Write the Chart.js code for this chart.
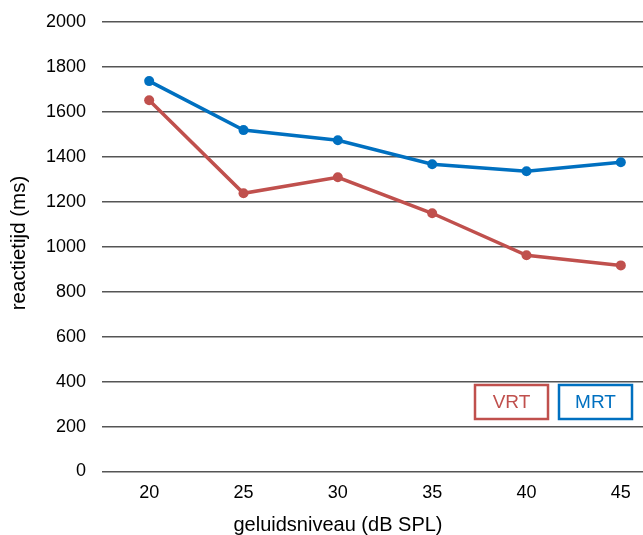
<!DOCTYPE html>
<html>
<head>
<meta charset="utf-8">
<script src="https://cdn.jsdelivr.net/npm/chart.js@4"></script>
<style>
  html, body { margin: 0; padding: 0; background: #fff; overflow: hidden; }
  #wrap { width: 643px; height: 535px; overflow: hidden; position: relative; }
  canvas { display: block; }
</style>
</head>
<body>
<div id="wrap"><canvas id="c" width="673" height="535"></canvas></div>
<script>
// Sound level categories (dB SPL)
const levels = ['20', '25', '30', '35', '40', '45'];
// Reaction times in ms
const vrt = [1652, 1238, 1309, 1149, 962, 917];
const mrt = [1737, 1519, 1474, 1367, 1336, 1376];
// Y axis ticks
const yTicks = [0, 200, 400, 600, 800, 1000, 1200, 1400, 1600, 1800, 2000];

const RED = '#C0504D';
const BLUE = '#0070C0';
const FONT = '"Liberation Sans", Arial, sans-serif';

// Axis titles and boxed series labels
const annotations = {
  id: 'annotations',
  afterDraw(chart) {
    const ctx = chart.ctx;
    ctx.save();
    ctx.fillStyle = '#000';
    ctx.textAlign = 'center';
    ctx.font = '20px ' + FONT;
    ctx.textBaseline = 'alphabetic';
    ctx.fillText('geluidsniveau (dB SPL)', 338, 531);
    ctx.font = '20.5px ' + FONT;
    ctx.textBaseline = 'middle';
    ctx.translate(19, 243);
    ctx.rotate(-Math.PI / 2);
    ctx.fillText('reactietijd (ms)', 0, 0);
    ctx.restore();

    const boxes = [
      { ds: 0, x: 475, w: 73 },
      { ds: 1, x: 559, w: 73 }
    ];
    ctx.save();
    ctx.font = '19px ' + FONT;
    ctx.textAlign = 'center';
    ctx.textBaseline = 'middle';
    boxes.forEach(b => {
      const ds = chart.data.datasets[b.ds];
      ctx.fillStyle = '#fff';
      ctx.fillRect(b.x, 385, b.w, 34);
      ctx.strokeStyle = ds.borderColor;
      ctx.lineWidth = 2.5;
      ctx.strokeRect(b.x, 385, b.w, 34);
      ctx.fillStyle = ds.borderColor;
      ctx.fillText(ds.label, b.x + b.w / 2, 402.5);
    });
    ctx.restore();
  }
};

new Chart(document.getElementById('c'), {
  type: 'line',
  data: {
    labels: levels,
    datasets: [
      { label: 'VRT', data: vrt, borderColor: RED, backgroundColor: RED,
        borderWidth: 3.5, pointRadius: 5, pointBackgroundColor: RED, pointBorderWidth: 0, tension: 0 },
      { label: 'MRT', data: mrt, borderColor: BLUE, backgroundColor: BLUE,
        borderWidth: 3.5, pointRadius: 5, pointBackgroundColor: BLUE, pointBorderWidth: 0, tension: 0 }
    ]
  },
  options: {
    responsive: false,
    animation: false,
    layout: { padding: { top: 22, left: 0, right: 0, bottom: 0 } },
    plugins: { legend: { display: false }, tooltip: { enabled: false } },
    scales: {
      x: {
        offset: true,
        grid: { display: false, drawTicks: false },
        border: { display: false },
        ticks: { color: '#000', font: { family: FONT, size: 18 }, padding: 11 },
        afterFit(scale) { scale.height = 63.5; }
      },
      y: {
        min: 0, max: 2000,
        afterBuildTicks(scale) { scale.ticks = yTicks.map(v => ({ value: v })); },
        grid: { color: '#555', lineWidth: 1.5, drawTicks: false },
        border: { display: false },
        ticks: { color: '#000', font: { family: FONT, size: 18 }, padding: 16,
                 callback: v => String(v) },
        afterFit(scale) {
          scale.width = 102;
          scale.paddingTop = 0;
          scale.paddingBottom = 0;
        }
      }
    }
  },
  plugins: [annotations]
});
</script>
</body>
</html>
